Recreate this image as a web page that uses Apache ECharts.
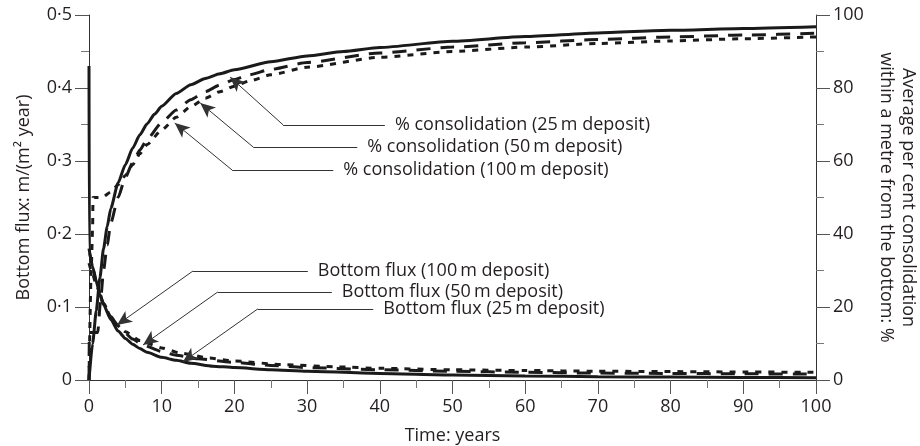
<!DOCTYPE html>
<html><head><meta charset="utf-8">
<script src="https://cdn.jsdelivr.net/npm/echarts@6/dist/echarts.min.js"></script>
<style>html,body{margin:0;padding:0;background:#fff}#c{width:920px;height:446px}</style>
</head><body><div id="c"></div>
<script>
// Consolidation (% , right axis) [years, %]
const cons25 = [[0,0],[0.5,10],[1,19],[1.5,28],[2,36],[2.5,42],[3,47],[4,54],[5,59],[6,63.5],[7,67.2],[8,70.2],[9,72.8],[10,75],[12,78.5],[14,80.9],[16,82.6],[18,83.9],[20,85],[25,87.2],[30,88.8],[35,90],[40,91.1],[50,92.8],[60,94.1],[70,95.1],[80,95.8],[90,96.3],[100,96.8]];
const cons50 = [[0,0],[0.05,13],[1.2,13],[1.6,22],[2,30],[2.5,37],[3,43],[4,50],[5,55.5],[6,59.5],[7,63],[8,66],[10,70.5],[12,74],[14,76.8],[16,79],[18,80.8],[20,82.3],[22,83.6],[25,85.1],[30,87],[40,89.6],[50,91.2],[60,92.4],[70,93.3],[80,94],[90,94.5],[100,95]];
const cons100 = [[0,0],[0.3,30],[0.5,42],[0.55,50],[1.8,50],[3,51.5],[4,53.5],[5,56],[6,59],[7,62],[8,64.5],[10,68.5],[12,72],[14,74.9],[16,77.2],[18,79],[20,80.5],[22,81.9],[25,83.6],[30,85.7],[40,88.4],[50,90],[60,91.2],[70,92.2],[80,92.9],[90,93.5],[100,94]];
// Bottom flux (m/(m2 year), left axis) [years, flux]
const flux25 = [[0,0.43],[0.05,0.175],[0.5,0.155],[1,0.135],[1.5,0.117],[2,0.103],[3,0.083],[4,0.067],[5,0.057],[6,0.049],[7,0.043],[8,0.038],[10,0.031],[12,0.027],[14,0.023],[17,0.019],[20,0.017],[25,0.014],[30,0.012],[40,0.009],[50,0.007],[60,0.0055],[70,0.0045],[80,0.004],[90,0.0035],[100,0.003]];
const flux50 = [[0,0.18],[0.5,0.155],[1,0.135],[2,0.105],[3,0.087],[4,0.074],[5,0.064],[6,0.056],[7.4,0.048],[10,0.039],[12,0.034],[15,0.029],[20,0.024],[25,0.02],[30,0.017],[40,0.014],[50,0.012],[60,0.0105],[70,0.0095],[80,0.009],[90,0.0085],[100,0.008]];
const flux100 = [[0,0.16],[0.5,0.145],[1,0.13],[2,0.104],[3,0.087],[3.85,0.076],[5,0.066],[7,0.054],[10,0.044],[12.5,0.037],[16.6,0.03],[20,0.026],[26.7,0.021],[34,0.018],[40,0.016],[50,0.014],[60,0.013],[70,0.012],[80,0.0115],[90,0.011],[100,0.0105]];
// Annotations: [elbow, lineEnd, arrowTip, text]
const consNotes = [
  [[26.7,69.9],[40.7,69.9],[19.4,83.0],'% consolidation (25\u2009m deposit)'],
  [[22.6,63.8],[36.9,63.8],[15.3,75.9],'% consolidation (50\u2009m deposit)'],
  [[19.7,57.5],[33.6,57.5],[11.8,70.4],'% consolidation (100\u2009m deposit)']
];
const fluxNotes = [
  [[14.3,0.1493],[30.1,0.1493],[3.85,0.0753],'Bottom flux (100\u2009m deposit)'],
  [[17.7,0.1205],[33.4,0.1205],[7.43,0.048],'Bottom flux (50\u2009m deposit)'],
  [[23.2,0.0973],[39.1,0.0973],[12.9,0.0247],'Bottom flux (25\u2009m deposit)']
];
const xTicks = {min:0, max:100, interval:10};
const yLeft = {min:0, max:0.5, interval:0.1};
const yRight = {min:0, max:100, interval:20};

const FONT = 'Open Sans';
const TXT = '#231f20';
const INK = '#1a1a1a';

function notesToMarkLine(notes){
  const data = [];
  notes.forEach(n => {
    data.push([{coord:n[0], symbol:'none'},{coord:n[1], symbol:'none', label:{show:true, position:'end', formatter:n[3], distance:10, color:TXT, fontFamily:FONT, fontSize:18}}]);
    data.push([{coord:n[0], symbol:'none'},{coord:n[2], symbol:'arrow', symbolSize:[10,15]}]);
  });
  return {silent:true, animation:false, symbol:['none','none'], label:{show:false},
    lineStyle:{color:'#333', width:1, type:'solid'}, emphasis:{disabled:true}, data};
}

const axisCommon = {
  axisLine:{show:true, lineStyle:{color:'#333', width:1}},
  axisTick:{show:true, length:14, lineStyle:{color:'#555', width:1}},
  minorTick:{show:true, splitNumber:2, length:8, lineStyle:{color:'#777', width:1}},
  splitLine:{show:false},
  axisLabel:{color:TXT, fontFamily:FONT, fontSize:18, margin:17},
  nameTextStyle:{color:TXT, fontFamily:FONT, fontSize:18}
};
const lineCommon = {type:'line', showSymbol:false, smooth:0.2, smoothMonotone:'x'};

const chart = echarts.init(document.getElementById('c'), null, {renderer:'canvas'});
chart.setOption({
  animation:false,
  backgroundColor:'#fff',
  grid:{left:89, right:104, top:15, bottom:66, containLabel:false, outerBoundsMode:'none'},
  xAxis:Object.assign({}, axisCommon, {type:'value', min:xTicks.min, max:xTicks.max, interval:xTicks.interval,
    name:'Time: years', nameLocation:'middle', nameGap:47,
    axisLabel:Object.assign({}, axisCommon.axisLabel, {margin:18})}),
  yAxis:[
    Object.assign({}, axisCommon, {type:'value', position:'left', min:yLeft.min, max:yLeft.max, interval:yLeft.interval,
      name:'Bottom flux: m/(m\u00b2 year)', nameLocation:'middle', nameGap:56, nameRotate:90,
      axisLabel:Object.assign({}, axisCommon.axisLabel, {formatter:v => v === 0 ? '0' : v.toFixed(1).replace('.', '\u00b7')})}),
    Object.assign({}, axisCommon, {type:'value', position:'right', min:yRight.min, max:yRight.max, interval:yRight.interval,
      name:'Average per cent consolidation\nwithin a metre from the bottom: %', nameLocation:'middle', nameGap:52, nameRotate:-90,
      nameTextStyle:{color:TXT, fontFamily:FONT, fontSize:18, lineHeight:22}})
  ],
  series:[
    Object.assign({}, lineCommon, {yAxisIndex:1, data:cons25, lineStyle:{color:INK, width:3}, markLine:notesToMarkLine(consNotes)}),
    Object.assign({}, lineCommon, {yAxisIndex:1, data:cons50, lineStyle:{color:INK, width:3, type:[14,10]}}),
    Object.assign({}, lineCommon, {yAxisIndex:1, data:cons100, lineStyle:{color:INK, width:3, type:[6,7]}}),
    Object.assign({}, lineCommon, {yAxisIndex:0, data:flux25, lineStyle:{color:INK, width:3}, markLine:notesToMarkLine(fluxNotes)}),
    Object.assign({}, lineCommon, {yAxisIndex:0, data:flux50, lineStyle:{color:INK, width:3, type:[14,10]}}),
    Object.assign({}, lineCommon, {yAxisIndex:0, data:flux100, lineStyle:{color:INK, width:3, type:[6,7]}})
  ]
});
</script></body></html>
